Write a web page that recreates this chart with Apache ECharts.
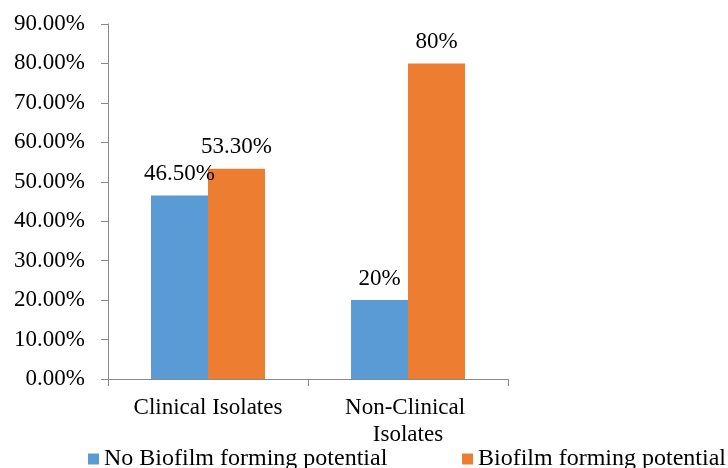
<!DOCTYPE html>
<html>
<head>
<meta charset="utf-8">
<script src="https://cdn.jsdelivr.net/npm/echarts@6/dist/echarts.min.js"></script>
<style>html,body{margin:0;padding:0;background:#fff}#c{width:728px;height:468px}</style>
</head>
<body>
<div id="c"></div>
<script>
var categories = ["Clinical Isolates", "Non-Clinical Isolates"];
var seriesNames = ["No Biofilm forming potential", "Biofilm forming potential"];
var noBiofilm = [46.5, 20];
var biofilm = [53.3, 80];
var noBiofilmLabels = ["46.50%", "20%"];
var biofilmLabels = ["53.30%", "80%"];
var yTicks = [0, 10, 20, 30, 40, 50, 60, 70, 80, 90];

var FONT = '"Liberation Serif", "Times New Roman", serif';
var FS = 23;
var chart = echarts.init(document.getElementById('c'), null, {renderer: 'canvas'});
function lbl(arr) {
  return {
    show: true, position: 'top', distance: 10,
    color: '#000', fontFamily: FONT, fontSize: FS,
    formatter: function (p) { return arr[p.dataIndex]; }
  };
}
function leg(name, left) {
  return {
    data: [name], left: left, top: 447,
    itemWidth: 11, itemHeight: 11, icon: 'rect', padding: 0,
    textStyle: {fontFamily: FONT, fontSize: 24, color: '#000'}
  };
}
chart.setOption({
  animation: false,
  textStyle: {fontFamily: FONT},
  grid: {left: 108, right: 220, top: 24, bottom: 89},
  legend: [leg(seriesNames[0], 88), leg(seriesNames[1], 462)],
  xAxis: {
    type: 'category',
    data: categories,
    axisLine: {lineStyle: {color: '#898989', width: 1}},
    axisTick: {show: true, length: 7, lineStyle: {color: '#898989'}},
    axisLabel: {
      interval: 0,
      color: '#000', fontFamily: FONT, fontSize: FS, margin: 15,
      width: 180, overflow: 'break', lineHeight: 27
    }
  },
  yAxis: {
    type: 'value',
    min: 0, max: 90, interval: 10,
    axisLine: {show: true, lineStyle: {color: '#898989', width: 1}},
    axisTick: {show: true, length: 7, lineStyle: {color: '#898989'}},
    splitLine: {show: false},
    axisLabel: {
      color: '#000', fontFamily: FONT, fontSize: FS, margin: 23,
      formatter: function (v) { return v.toFixed(2) + '%'; }
    }
  },
  series: [
    {name: seriesNames[0], type: 'bar', data: noBiofilm, barWidth: 57, barGap: '0%',
     itemStyle: {color: '#5B9BD5'}, label: lbl(noBiofilmLabels)},
    {name: seriesNames[1], type: 'bar', data: biofilm, barWidth: 57, barGap: '0%',
     itemStyle: {color: '#ED7D31'}, label: lbl(biofilmLabels)}
  ]
});
</script>
</body>
</html>
